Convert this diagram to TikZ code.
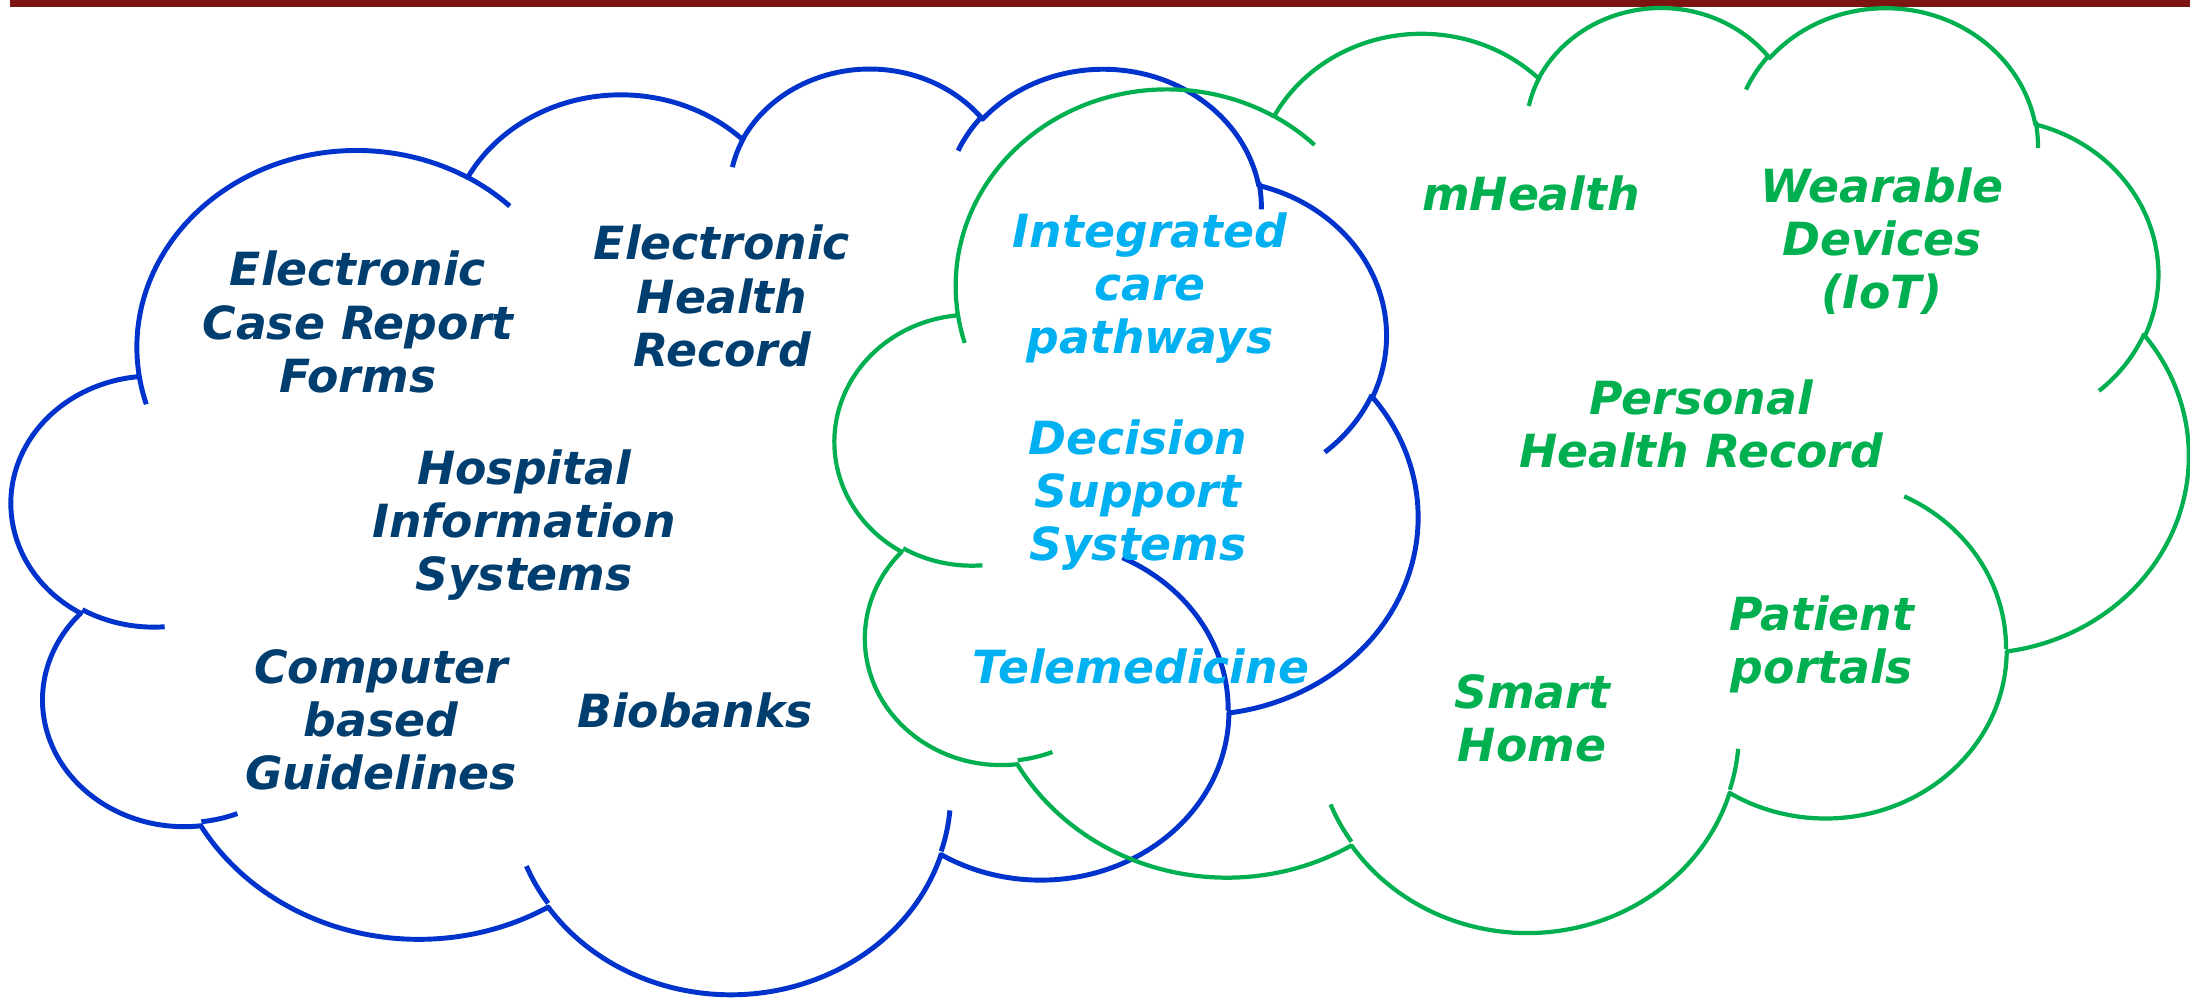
\documentclass[tikz,border=0pt]{standalone}
\usepackage{fontspec}
\setmainfont{DejaVu Sans}[BoldFont={DejaVu Sans Bold},ItalicFont={DejaVu Sans Oblique},BoldItalicFont={DejaVu Sans Bold Oblique}]
\definecolor{ehrblue}{RGB}{0,62,112}
\definecolor{carecyan}{RGB}{0,176,240}
\definecolor{homegreen}{RGB}{0,176,80}
\definecolor{lineblue}{RGB}{0,51,204}
\definecolor{barred}{RGB}{124,21,17}

% one bump: x radius, y radius, start angle, sweep (angles seen from the centre)
\newcommand{\bump}[4]{arc[start angle={atan2(#1*sin(#3),#2*cos(#3))}, delta angle={mod(atan2(#1*sin(#3+#4),#2*cos(#3+#4))-atan2(#1*sin(#3),#2*cos(#3))+720,360)}, x radius=#1, y radius=#2]}
% cloud outline in a 432 x 432 box, then the inner creases
\newcommand{\cloudpath}{(39,143.7) \bump{67.53}{91.9}{-190.4875}{123.7805} \bump{53.33}{72.67}{-144.1024}{89.9452}
  \bump{43.65}{59.45}{-145.8079}{99.723} \bump{48.57}{65.95}{-130.9861}{117.2417}
  \bump{53.33}{72.73}{-78.7089}{109.0269} \bump{67.75}{92.2}{-46.2673}{130.269}
  \bump{57.85}{78.67}{0.625}{114.0333} \bump{67.52}{92.15}{22.4516}{115.1726}
  \bump{77.2}{105.43}{66.2426}{75.711} \bump{43.6}{59.18}{-274.9421}{146.7356}
  \bump{43.45}{59.45}{-246.8285}{152.5189} -- cycle
  (46.93,261.77) \bump{43.45}{59.45}{86.742}{26.4295}
  (69.28,348.99) \bump{43.6}{59.18}{73.6105}{11.4475}
  (164.78,390.9) \bump{67.52}{92.15}{137.6242}{14.0811}
  (288.27,347.51) \bump{67.52}{92.15}{6.4533}{15.9984}
  (341.29,229.54) \bump{57.85}{78.67}{-70.2924}{70.9174}
  (417.98,153.54) \bump{53.33}{72.73}{30.318}{27.7515}
  (383.24,54.26) \bump{48.57}{65.95}{-13.7443}{14.8589}
  (290.78,39.52) \bump{48.57}{65.95}{-149.1815}{18.1954}
  (221.41,47.2) \bump{43.65}{59.45}{-163.4943}{17.6864}
  (140,51.92) \bump{67.53}{91.9}{-66.707}{12.3194}
  (41.27,157.89) \bump{67.53}{91.9}{157.6544}{11.8582}}

\begin{document}
\begin{tikzpicture}[x=0.01cm,y=-0.01cm]
  \tikzstyle{cloudline} = [line join=round, line cap=butt];
  \tikzstyle{txt} = [align=center, inner sep=0pt, font=\fontsize{13}{15.1}\selectfont\bfseries\itshape];
  \useasboundingbox (0,0) rectangle (2190,998);
  \fill[barred] (10,0) rectangle (2190,7);
  % left cloud
  \begin{scope}[shift={(0.12cm,-0.66cm)},x=0.0325231cm,y=-0.021412cm]
    \draw[cloudline, lineblue, line width=1.4pt] \cloudpath;
  \end{scope}
  % right cloud
  \begin{scope}[shift={(8.35cm,-0.05cm)},x=0.0312963cm,y=-0.0213889cm]
    \draw[cloudline, homegreen, line width=1.2pt] \cloudpath;
  \end{scope}
  \node (ecrf) [txt, text=ehrblue] at (358,322) {Electronic\\Case Report\\Forms};
  \node (ehr) [txt, text=ehrblue] at (722,296) {Electronic\\Health\\Record};
  \node (his) [txt, text=ehrblue] at (524,525) {Hospital\\Information\\Systems};
  \node (cbg) [txt, text=ehrblue] at (381,720) {Computer\\based\\Guidelines};
  \node (biobanks) [txt, text=ehrblue] at (695,710) {Biobanks};
  \node (icp) [txt, text=carecyan] at (1150,288) {Integrated\\care\\pathways};
  \node (dss) [txt, text=carecyan] at (1138,495) {Decision\\Support\\Systems};
  \node (tele) [txt, text=carecyan] at (1141,666) {Telemedicine};
  \node (mhealth) [txt, text=homegreen] at (1531,193) {mHealth};
  \node (wearable) [txt, text=homegreen] at (1882,241) {Wearable\\Devices\\(IoT)};
  \node (phr) [txt, text=homegreen] at (1701,424) {Personal\\Health Record};
  \node (portals) [txt, text=homegreen] at (1822,644) {Patient\\portals};
  \node (smarthome) [txt, text=homegreen] at (1532,718) {Smart\\Home};
\end{tikzpicture}
\end{document}
